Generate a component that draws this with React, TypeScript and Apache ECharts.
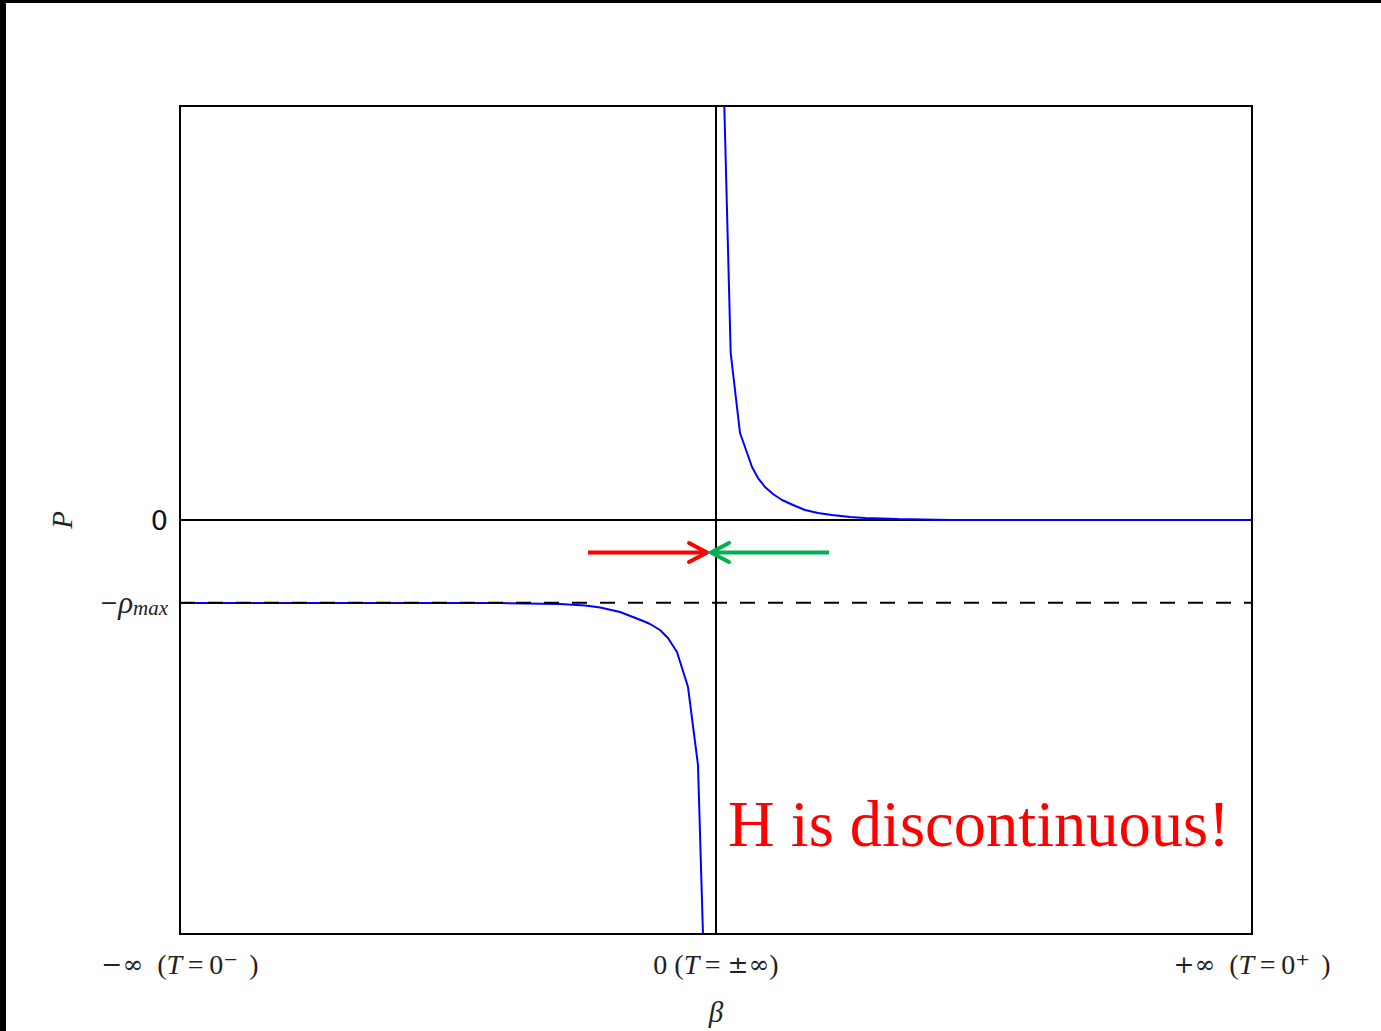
import React, { useEffect, useRef } from "react";
import * as echarts from "echarts";

// ---- data (β scaled to [-1, 1], P scaled to [-1, 1]) ----
const xTickValues = [-1, 0, 1];
const xTickLabels = [
  "{sym|−∞}{n|  (}{i|T}{n|\u2009=\u20090}{sp|⁻}{n|\u2009\u2009)}",
  "{n|0 (}{i|T}{n|\u2009= }{sym|±∞}{n|)}",
  "{sym|+∞}{n|  (}{i|T}{n|\u2009=\u20090}{sp|⁺}{n|\u2009\u2009)}",
];
const rhoMax = -0.2;
const zeroLevel = 0;

const lowerBranchX = [-1, -0.6, -0.403, -0.291, -0.244, -0.216, -0.179, -0.155, -0.136, -0.123, -0.1045, -0.0896, -0.0728, -0.0522, -0.0336, -0.0243];
const lowerBranchY = [-0.2005, -0.2005, -0.2005, -0.2029, -0.2065, -0.2114, -0.2222, -0.2343, -0.244, -0.2512, -0.2657, -0.285, -0.3188, -0.4034, -0.5918, -1.0];

const upperBranchX = [0.0155, 0.0274, 0.0448, 0.0541, 0.0672, 0.0784, 0.0914, 0.1063, 0.1231, 0.1437, 0.166, 0.1903, 0.2164, 0.25, 0.278, 0.3396, 0.4366, 1];
const upperBranchY = [1.0, 0.4034, 0.2101, 0.1763, 0.128, 0.1014, 0.0797, 0.0628, 0.0483, 0.0362, 0.0242, 0.0169, 0.0121, 0.0072, 0.0048, 0.0024, 0.0, 0.0];

const annotationText = "H is discontinuous!";

const zip = (xs: number[], ys: number[]) => xs.map((x, i) => [x, ys[i]]);

export default function App() {
  const ref = useRef<HTMLDivElement>(null);

  useEffect(() => {
    document.body.style.margin = "0";
    const chart = echarts.init(ref.current!, null, { renderer: "svg" });
    const serif = "'Liberation Serif', 'DejaVu Serif', serif";
    const symFont = "'DejaVu Serif', serif";
    const option: any = {
      animation: false,
      backgroundColor: "#ffffff",
      grid: {
        left: 180,
        top: 106,
        right: 129,
        bottom: 97,
        show: true,
        borderColor: "#000",
        borderWidth: 2,
        backgroundColor: "transparent",
        outerBoundsMode: "none",
      },
      xAxis: {
        type: "value",
        min: -1,
        max: 1,
        interval: 1,
        axisLine: { show: false },
        axisTick: { show: false },
        splitLine: { show: false },
        name: "β",
        nameLocation: "middle",
        nameGap: 63,
        nameTextStyle: { fontFamily: serif, fontStyle: "italic", fontSize: 29, color: "#222" },
        axisLabel: {
          margin: 15,
          formatter: (v: number) => {
            const i = xTickValues.findIndex((t) => Math.abs(t - v) < 1e-9);
            return i >= 0 ? xTickLabels[i] : "";
          },
          rich: {
            n: { fontFamily: serif, fontSize: 28, color: "#222", lineHeight: 30 },
            i: { fontFamily: serif, fontSize: 28, fontStyle: "italic", color: "#222", lineHeight: 30 },
            sp: { fontFamily: serif, fontSize: 28, color: "#222", lineHeight: 30 },
            sym: { fontFamily: symFont, fontSize: 25, color: "#222", lineHeight: 30 },
          },
        },
      },
      yAxis: {
        type: "value",
        min: -1,
        max: 1,
        interval: 0.2,
        axisLine: { show: false },
        axisTick: { show: false },
        splitLine: { show: false },
        name: "P",
        nameLocation: "middle",
        nameGap: 104,
        nameRotate: 90,
        nameTextStyle: { fontFamily: serif, fontStyle: "italic", fontSize: 29, color: "#222" },
        axisLabel: {
          margin: 12,
          formatter: (v: number) => {
            if (Math.abs(v - zeroLevel) < 1e-9) return "{z|0}";
            if (Math.abs(v - rhoMax) < 1e-9) return "{m|−}{r|ρ}{s|max}";
            return "";
          },
          rich: {
            z: { fontFamily: "'DejaVu Sans', sans-serif", fontSize: 27, color: "#111" },
            m: { fontFamily: symFont, fontSize: 22, color: "#222", lineHeight: 32, verticalAlign: "middle" },
            r: { fontFamily: serif, fontSize: 31, fontStyle: "italic", color: "#222", lineHeight: 32, verticalAlign: "middle" },
            s: { fontFamily: serif, fontSize: 21, fontStyle: "italic", color: "#222", lineHeight: 32, verticalAlign: "bottom" },
          },
        },
      },
      series: [
        {
          type: "line",
          data: [[-1, zeroLevel], [1, zeroLevel]],
          showSymbol: false,
          lineStyle: { color: "#000", width: 2 },
          z: 1,
        },
        {
          type: "line",
          data: [[0, -1], [0, 1]],
          showSymbol: false,
          lineStyle: { color: "#000", width: 2 },
          z: 1,
        },
        {
          type: "line",
          data: zip(lowerBranchX, lowerBranchY),
          showSymbol: false,
          lineStyle: { color: "#0000ff", width: 2 },
          z: 2,
        },
        {
          type: "line",
          data: zip(upperBranchX, upperBranchY),
          showSymbol: false,
          lineStyle: { color: "#0000ff", width: 2 },
          z: 2,
        },
        {
          type: "line",
          data: [[-1, rhoMax], [1, rhoMax]],
          showSymbol: false,
          lineStyle: { color: "#000", width: 2, type: [15, 13] },
          z: 3,
        },
      ],
      graphic: [
        { type: "rect", shape: { x: 0, y: 0, width: 1381, height: 3 }, style: { fill: "#000" }, z: 100 },
        { type: "rect", shape: { x: 0, y: 0, width: 6, height: 1031 }, style: { fill: "#000" }, z: 100 },
        {
          type: "line",
          shape: { x1: 588, y1: 552.5, x2: 706, y2: 552.5 },
          style: { stroke: "#ff0000", lineWidth: 4 },
          z: 50,
        },
        {
          type: "polyline",
          shape: { points: [[689, 543], [707, 552.5], [689, 562]] },
          style: { stroke: "#ff0000", lineWidth: 4, fill: null, lineCap: "round", lineJoin: "miter" },
          z: 50,
        },
        {
          type: "line",
          shape: { x1: 829, y1: 552.5, x2: 712, y2: 552.5 },
          style: { stroke: "#00b050", lineWidth: 4 },
          z: 50,
        },
        {
          type: "polyline",
          shape: { points: [[729, 543], [711, 552.5], [729, 562]] },
          style: { stroke: "#00b050", lineWidth: 4, fill: null, lineCap: "round", lineJoin: "miter" },
          z: 50,
        },
        {
          type: "text",
          x: 728,
          y: 824,
          style: {
            text: annotationText,
            fill: "#ff0000",
            font: "64.5px 'Liberation Serif', serif",
            align: "left",
            verticalAlign: "middle",
          },
          z: 50,
        },
      ],
    };
    chart.setOption(option);
    return () => chart.dispose();
  }, []);

  return <div ref={ref} style={{ width: 1381, height: 1031 }} />;
}
